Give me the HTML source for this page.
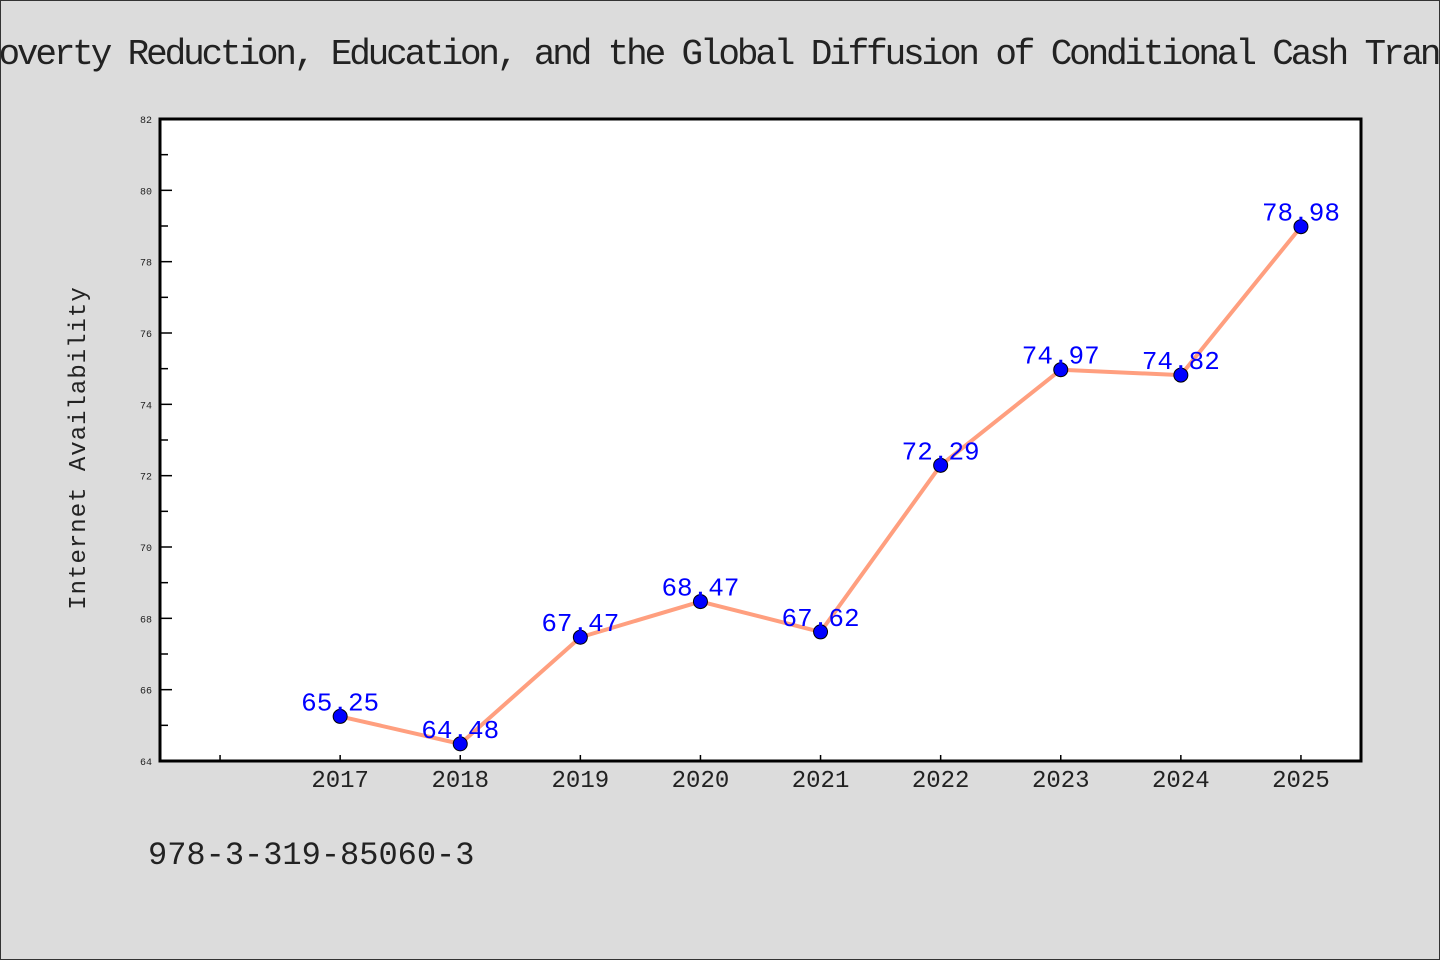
<!DOCTYPE html>
<html><head><meta charset="utf-8"><style>
html,body{margin:0;padding:0;background:#dcdcdc;}
body{width:1440px;height:960px;overflow:hidden;position:relative;font-family:"WenQuanYi Zen Hei Mono","WenQuanYi Zen Hei","Liberation Mono",monospace;}
#frame{position:absolute;left:0;top:0;width:1438px;height:958px;border:1px solid #333;}
</style></head><body>
<div id="frame"></div>
<svg id="chart" width="1440" height="960" style="position:absolute;left:0;top:0">
<text x="720" y="64" text-anchor="middle" font-size="36" fill="#222" font-family="WenQuanYi Zen Hei Mono, WenQuanYi Zen Hei, Liberation Mono, monospace" textLength="1480">Poverty Reduction, Education, and the Global Diffusion of Conditional Cash Trans</text>
<rect x="160" y="119" width="1201" height="642" fill="#fff"/>
<g id="ticks"></g>
<g id="series"></g>
<rect x="160" y="119" width="1201" height="642" fill="none" stroke="#000" stroke-width="3"/>
<text transform="translate(85,448) rotate(-90)" text-anchor="middle" font-size="24" fill="#222" letter-spacing="1">Internet Availability</text>
<text x="148" y="864" font-size="32" fill="#222">978-3-319-85060-3</text>
</svg>
<script>
const categories = ["", "2017","2018","2019","2020","2021","2022","2023","2024","2025"];
const values = [null, 65.25,64.48,67.47,68.47,67.62,72.29,74.97,74.82,78.98];
const yTicks = [64,66,68,70,72,74,76,78,80,82];
const NS="http://www.w3.org/2000/svg";
const L=160,R=1361,T=119,B=761,yMin=64,yMax=82;
function xs(i){return L+(R-L)/categories.length*(i+0.5);}
function ys(v){return B-(v-yMin)/(yMax-yMin)*(B-T);}
function mk(tag,attrs,parent){const e=document.createElementNS(NS,tag);for(const k in attrs)e.setAttribute(k,attrs[k]);parent.appendChild(e);return e;}
const tg=document.getElementById('ticks'), sg=document.getElementById('series');
yTicks.forEach((t,i)=>{
  const y=ys(t);
  const l=mk('line',{x1:L,x2:L+12,y1:y,y2:y,stroke:'#000','stroke-width':1.5},tg);
  
  
  const txt=mk('text',{x:L-8,y:y+4,'text-anchor':'end','font-size':10,fill:'#222'},tg);
  
  
  txt.textContent=t;
  if(i<yTicks.length-1){const ym=ys(t+1);
    const m=mk('line',{x1:L,x2:L+8,y1:ym,y2:ym,stroke:'#000','stroke-width':1.5},tg);
    
    }
});
categories.forEach((c,i)=>{
  const x=xs(i);
  const l=mk('line',{x1:x,x2:x,y1:B,y2:B-6,stroke:'#000','stroke-width':1.5},tg);
  
  
  const txt=mk('text',{x:x,y:B+26,'text-anchor':'middle','font-size':24,fill:'#222'},tg);
  
  
  txt.textContent=c;
});
let d='';
values.forEach((v,i)=>{if(v===null)return;d+=(d?'L':'M')+xs(i)+','+ys(v);});
const path=mk('path',{d:d,fill:'none',stroke:'#ff9f7f','stroke-width':4,'stroke-linejoin':'round'},sg);


values.forEach((v,i)=>{if(v===null)return;
  const c=mk('circle',{cx:xs(i),cy:ys(v),r:7,fill:'#0000ff',stroke:'#000','stroke-width':1},sg);
  
  
  const t=mk('text',{x:xs(i),y:ys(v)-6,'text-anchor':'middle','font-size':26,fill:'#0000ff'},sg);
  
  
  t.textContent=v.toFixed(2);
});
</script>
</body></html>
